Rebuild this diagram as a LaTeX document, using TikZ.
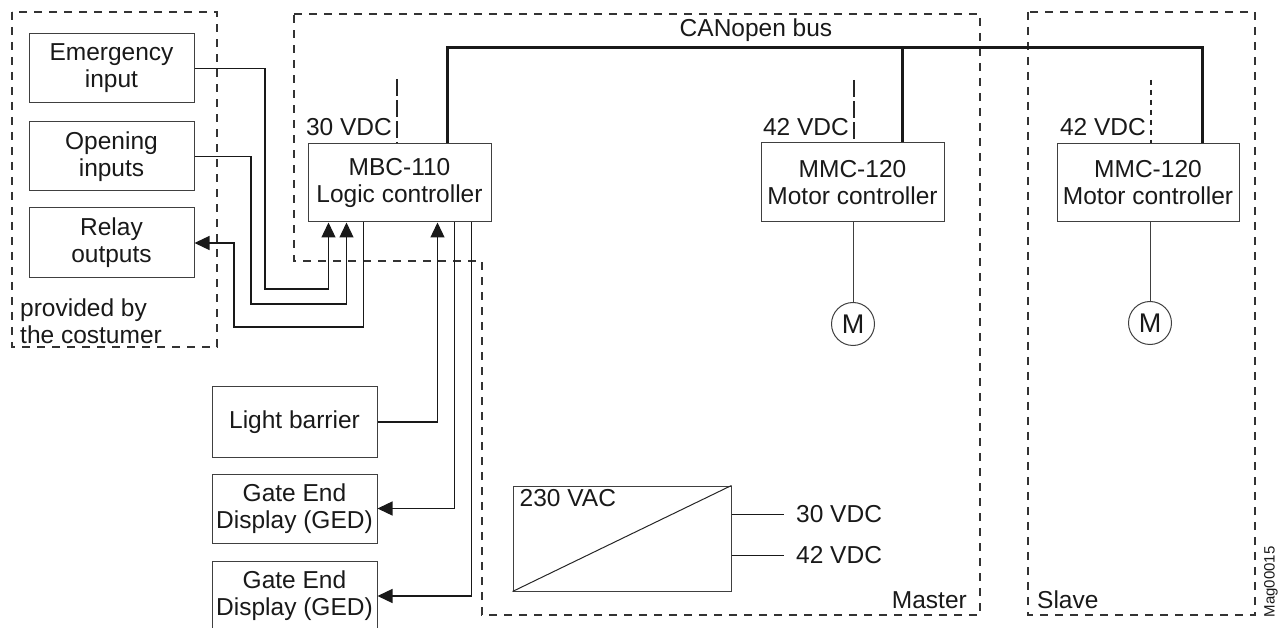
\documentclass[tikz,border=0pt]{standalone}
\usepackage{fontspec}
\setmainfont{Liberation Sans}
\usetikzlibrary{arrows.meta}
\begin{document}
\begin{tikzpicture}[x=1pt,y=-1pt,
  font=\fontsize{24.5}{27}\selectfont,
  box/.style={draw=black!75,line width=1pt,align=center,inner sep=0pt,text=black!90},
  conn/.style={line width=1.3pt,black!90},
  arr/.style={conn,-{Triangle[length=15pt,width=14pt]}},
  bus/.style={line width=3pt,black!90,line join=miter},
  region/.style={draw=black!80,line width=1.2pt,dash pattern=on 8pt off 7pt},
  stubA/.style={line width=2.2pt,black!85,dash pattern=on 17pt off 4pt},
  stubB/.style={line width=2.8pt,black!85,dash pattern=on 5pt off 5pt},
  lbl/.style={inner sep=0pt,text=black!90},
  motor/.style={circle,draw=black!75,line width=1pt,minimum size=43pt,inner sep=0pt,text=black!90,font=\fontsize{27}{29}\selectfont}]
\clip (0,0) rectangle (1278,628);
\useasboundingbox (0,0) rectangle (1278,628);

% dashed regions
\draw[region] (12,12) rectangle (217,347);
\draw[region] (294,14) -- (980,14) -- (980,615) -- (482,615) -- (482,261) -- (294,261) -- cycle;
\draw[region] (1028,12) rectangle (1255,615);

% left customer boxes
\node[box,minimum width=165pt,minimum height=69pt] (emerg) at (111.5,68.5) {Emergency\\input};
\node[box,minimum width=165pt,minimum height=69pt] (open) at (111.5,156.5) {Opening\\inputs};
\node[box,minimum width=165pt,minimum height=70pt] (relay) at (111.5,243) {Relay\\outputs};
\node[lbl,anchor=north west,align=left] (cust) at (20,299) {provided by\\the costumer};

% controllers
\node[box,minimum width=183pt,minimum height=78pt] (mbc) at (399.5,183) {MBC-110\\Logic controller};
\node[box,minimum width=183pt,minimum height=79pt] (mmc1) at (852.5,182.5) {MMC-120\\Motor controller};
\node[box,minimum width=182pt,minimum height=78pt] (mmc2) at (1148,183) {MMC-120\\Motor controller};

% lower left boxes
\node[box,minimum width=165pt,minimum height=70pt] (light) at (294.5,422) {Light barrier};
\node[box,minimum width=165pt,minimum height=69pt] (ged1) at (294.5,508.5) {Gate End\\Display (GED)};
\node[box,minimum width=165pt,minimum height=70pt] (ged2) at (294.5,596) {Gate End\\Display (GED)};

% motors
\node[motor] (m1) at (853,324) {M};
\node[motor] (m2) at (1150,323) {M};
\draw[black!75,line width=1pt] (m1) -- (m1 |- mmc1.south);
\draw[black!75,line width=1pt] (m2) -- (m2 |- mmc2.south);

% CANopen bus
\coordinate (busL) at (447,48);
\coordinate (busJ) at (902,48);
\coordinate (busR) at (1202,48);
\node[lbl] (canlbl) at (756,30) {CANopen bus};
\draw[bus] (busL |- mbc.north) -- (busL) -- (busR) -- (busR |- mmc2.north);
\draw[bus] (busJ) -- (busJ |- mmc1.north);

% supply stubs
\coordinate (s1) at (397,79);
\coordinate (s2) at (854,80);
\coordinate (s3) at (1151,80);
\draw[stubA] (s1) -- (s1 |- mbc.north);
\draw[stubA] (s2) -- (s2 |- mmc1.north);
\draw[stubB] (s3) -- (s3 |- mmc2.north);
\node[lbl,anchor=east] (v1) at (392,127) {30 VDC};
\node[lbl,anchor=east] (v2) at (849,127) {42 VDC};
\node[lbl,anchor=east] (v3) at (1146,127) {42 VDC};

% wiring to MBC
\draw[arr] (emerg.east) -| (265,289) -| ([xshift=21pt]mbc.south west);
\draw[arr] (open.east) -| (251,304) -| ([xshift=39pt]mbc.south west);
\draw[arr] ([xshift=56pt]mbc.south west) |- (234,327) |- (relay.east);
\draw[arr] (light.east) -| ([xshift=130pt]mbc.south west);
\draw[arr] ([xshift=147pt]mbc.south west) |- (ged1.east);
\draw[arr] ([xshift=164pt]mbc.south west) |- (ged2.east);

% power supply
\node[box,minimum width=218pt,minimum height=105pt] (psu) at (622,538.5) {};
\draw[black!85,line width=1pt] (psu.south west) -- (psu.north east);
\node[lbl,anchor=north west] (vac) at ([xshift=7pt,yshift=-4pt]psu.north west) {230 VAC};
\coordinate (o1) at (731,514);
\coordinate (o2) at (731,555);
\node[lbl,anchor=west] (out1) at (796,514) {30 VDC};
\node[lbl,anchor=west] (out2) at (796,555) {42 VDC};
\draw[conn,line width=1pt] (o1 -| psu.east) -- ++(52,0);
\draw[conn,line width=1pt] (o2 -| psu.east) -- ++(52,0);

% region labels
\node[lbl,anchor=east] (master) at (967,600) {Master};
\node[lbl,anchor=west] (slave) at (1037,600) {Slave};
\node[lbl,rotate=90,font=\fontsize{15}{17}\selectfont] (mag) at (1271,582) {Mag00015};
\end{tikzpicture}
\end{document}
